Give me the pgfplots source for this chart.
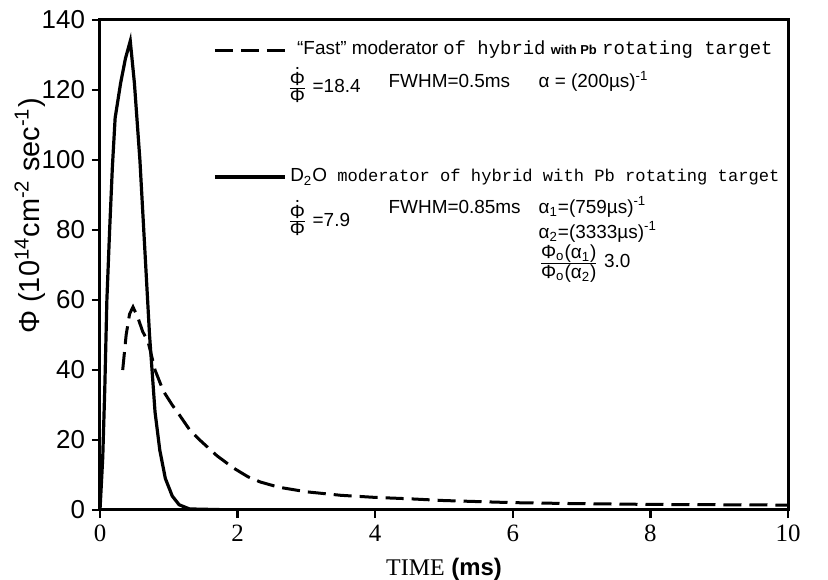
\documentclass[border=0pt]{standalone}
\usepackage{pgfplots}
\pgfplotsset{compat=1.18}
\usepackage{fontspec}
\setmainfont{Liberation Sans}
\newfontfamily\seriffont{Liberation Serif}
\newfontfamily\monofont{Liberation Mono}
\newcommand\dotPhi{\ooalign{Φ\cr\hfil\raisebox{0.85em}{.}\hfil\cr}}
\tikzset{legtext/.style={anchor=west, inner sep=0, font=\fontsize{9.5}{10}\selectfont}}
\begin{document}
\begin{tikzpicture}
\useasboundingbox (-50bp,-35bp) rectangle (364bp,255bp);
\begin{axis}[
  scale only axis, width=344bp, height=245bp,
  at={(0,0)}, anchor=south west,
  xmin=0, xmax=10, ymin=0, ymax=140,
  xtick={0,2,...,10}, ytick={0,20,...,140},
  tick align=outside, tick pos=left, major tick length=4bp,
  axis line style={line width=1.5bp},
  major tick style={line width=1.2bp, black},
  /pgf/number format/assume math mode=true,
  yticklabel style={font=\fontsize{13}{13}\selectfont},
  xticklabel style={font=\seriffont\fontsize{12.5}{12.5}\selectfont},
  xlabel={{\seriffont TIME} \textbf{(ms)}},
  xlabel style={at={(axis description cs:0.5,-0.122)}, anchor=center,
    font=\fontsize{12}{12}\selectfont},
  ylabel={Φ (10\textsuperscript{14}cm\textsuperscript{-2} sec\textsuperscript{-1})},
  ylabel style={at={(axis description cs:-0.102,0.6)}, anchor=center,
    font=\fontsize{14.5}{14.5}\selectfont},
]
% D2O moderator (solid)
\addplot[black, line width=1.6bp] coordinates {
  (0,0)(0.04,15)(0.07,35)(0.1,60)(0.14,80)(0.18,98)(0.22,112)(0.3,122)
  (0.37,129)(0.44,134)(0.5,122)(0.58,100)(0.65,75)(0.72,50)(0.8,28)
  (0.87,17)(0.95,9)(1.05,4)(1.15,1.5)(1.3,0.3)(2,0)(10,0)};
% "Fast" moderator (dashed)
\addplot[black, line width=1.5bp, dash pattern=on 9bp off 4bp] coordinates {
  (0.33,40)(0.38,50)(0.43,56)(0.48,58)(0.55,55)(0.62,51)(0.7,48)(0.8,40)
  (0.92,34)(1.05,30)(1.16,27)(1.3,23)(1.45,20)(1.7,15.5)(1.94,12)(2.15,9.5)
  (2.33,8)(2.6,6.5)(3.0,5.2)(3.5,4.2)(4.0,3.6)(4.5,3.2)(5.0,2.7)(6,2.1)
  (7,1.8)(8,1.6)(9,1.5)(10,1.4)};
% legend
\draw[line width=1.5bp, dash pattern=on 9bp off 4bp] (axis cs:1.67,131.4) -- (axis cs:2.73,131.4);
\node[legtext] at (axis cs:2.86,131.4)
  {“Fast” moderator {\monofont\fontsize{9.5}{10}\selectfont of hybrid} {\fontsize{6.5}{6.5}\selectfont\bfseries with Pb} {\monofont\fontsize{9.5}{10}\selectfont rotating target}};
\node[legtext] at (axis cs:2.72,120.8)
  {\(\frac{\mbox{\dotPhi}}{\mbox{Φ}}\) =18.4};
\node[legtext] at (axis cs:4.19,122.5) {FWHM=0.5ms};
\node[legtext] at (axis cs:6.37,122.5) {α = (200µs)\textsuperscript{-1}};
\draw[line width=2bp] (axis cs:1.67,95.1) -- (axis cs:2.69,95.1);
\node[legtext] at (axis cs:2.76,95.1)
  {D\textsubscript{2}O{\monofont\fontsize{8.6}{9}\selectfont\ moderator of hybrid with Pb rotating target}};
\node[legtext] at (axis cs:2.72,82.6)
  {\(\frac{\mbox{\dotPhi}}{\mbox{Φ}}\) =7.9};
\node[legtext] at (axis cs:4.19,86.6) {FWHM=0.85ms};
\node[legtext] at (axis cs:6.37,86.6) {α\textsubscript{1}=(759µs)\textsuperscript{-1}};
\node[legtext] at (axis cs:6.37,79.5) {α\textsubscript{2}=(3333µs)\textsuperscript{-1}};
\node[legtext] at (axis cs:6.37,70.5)
  {\(\frac{\mbox{Φ\textsubscript{o}(α\textsubscript{1})}}{\mbox{Φ\textsubscript{o}(α\textsubscript{2})}}\) 3.0};
\end{axis}
\end{tikzpicture}
\end{document}
